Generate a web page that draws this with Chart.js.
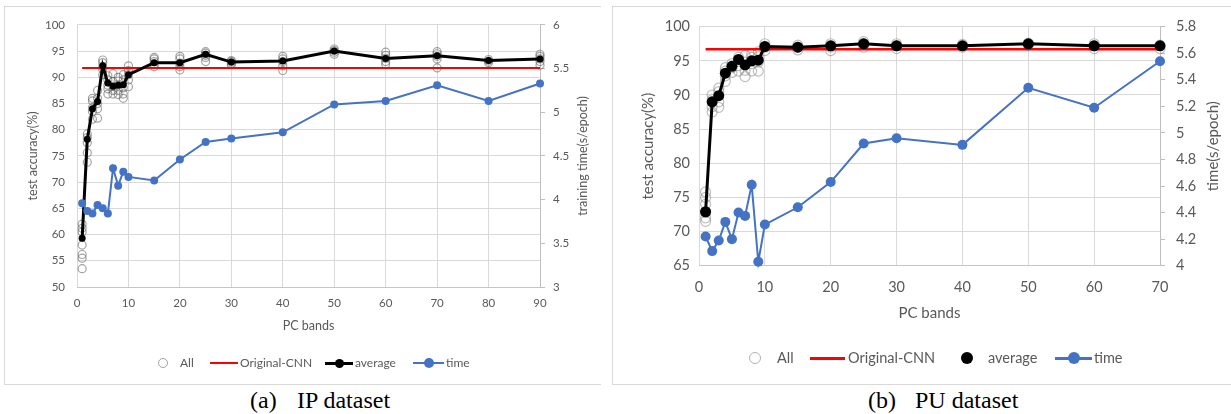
<!DOCTYPE html>
<html>
<head>
<meta charset="utf-8">
<script src="https://cdn.jsdelivr.net/npm/chart.js@4.4.1/dist/chart.umd.min.js"></script>
<style>
  body { margin: 0; width: 1231px; height: 414px; overflow: hidden; background: #fff; position: relative; font-family: Lato, "Open Sans", sans-serif; }
  .frame { position: absolute; border: 1px solid #d9d9d9; border-right: none; box-sizing: border-box; }
  canvas { position: absolute; }
  .leg { position: absolute; color: #595959; white-space: nowrap; }
  .mk { position: absolute; box-sizing: border-box; }
  .cap { position: absolute; font-family: "Liberation Serif", "Times New Roman", serif; font-size: 24px; line-height: 24px; color: #000; white-space: nowrap; }
</style>
</head>
<body>
<div class="frame" style="left:4px;top:6px;width:597px;height:379px"></div>
<div class="frame" style="left:612px;top:6px;width:619px;height:379px"></div>
<canvas id="chartA" width="596" height="378" style="left:4px;top:6px"></canvas>
<canvas id="chartB" width="619" height="378" style="left:612px;top:6px"></canvas>

<!-- legend (a) -->
<div class="mk" style="left:158px;top:358px;width:10px;height:10px;border:1.2px solid #a0a0a0;border-radius:50%"></div>
<div class="leg" style="left:180px;top:355px;font-size:12px;line-height:16px">All</div>
<div class="mk" style="left:210px;top:362px;width:28px;height:2px;background:#ff0000"></div>
<div class="leg" style="left:240px;top:355px;font-size:12px;line-height:16px">Original-CNN</div>
<div class="mk" style="left:325px;top:362px;width:28px;height:3px;background:#000"></div>
<div class="mk" style="left:335px;top:359px;width:9px;height:9px;background:#000;border-radius:50%"></div>
<div class="leg" style="left:355px;top:355px;font-size:12px;line-height:16px">average</div>
<div class="mk" style="left:413px;top:362px;width:31px;height:2px;background:#4472c4"></div>
<div class="mk" style="left:424px;top:358px;width:10px;height:10px;background:#4472c4;border-radius:50%"></div>
<div class="leg" style="left:446px;top:355px;font-size:12px;line-height:16px">time</div>

<!-- legend (b) -->
<div class="mk" style="left:749px;top:352px;width:12px;height:12px;border:1.2px solid #b0b0b0;border-radius:50%"></div>
<div class="leg" style="left:777px;top:348px;font-size:14.5px;line-height:20px">All</div>
<div class="mk" style="left:810px;top:357px;width:35px;height:2.5px;background:#ff0000"></div>
<div class="leg" style="left:848px;top:348px;font-size:14.5px;line-height:20px">Original-CNN</div>
<div class="mk" style="left:961px;top:352px;width:12px;height:12px;background:#000;border-radius:50%"></div>
<div class="leg" style="left:988px;top:348px;font-size:14.5px;line-height:20px">average</div>
<div class="mk" style="left:1055px;top:357px;width:37px;height:2.5px;background:#4472c4"></div>
<div class="mk" style="left:1068px;top:352px;width:12px;height:12px;background:#4472c4;border-radius:50%"></div>
<div class="leg" style="left:1094px;top:348px;font-size:14.5px;line-height:20px">time</div>

<div class="cap" style="left:250px;top:388px">(a)</div>
<div class="cap" style="left:297px;top:388px">IP dataset</div>
<div class="cap" style="left:868px;top:388px">(b)</div>
<div class="cap" style="left:915px;top:388px">PU dataset</div>

<script>
// ---- (a) IP dataset ----
const pcBandsA = [1, 2, 3, 4, 5, 6, 7, 8, 9, 10, 15, 20, 25, 30, 40, 50, 60, 70, 80, 90];
const allRunsA = [
  [53.5, 55.5, 56.2, 58, 60.5, 61.2, 62],
  [73.8, 75.6, 77.5, 78.5, 79.2],
  [82, 83.5, 84.2, 85.5, 86],
  [82.2, 84, 85, 86, 87.5],
  [90.5, 91.5, 92, 92.8, 93.3],
  [86.8, 87.8, 88.5, 89.5, 90.3],
  [86.8, 87.5, 88.3, 89.2, 90.7],
  [86.7, 87.5, 88.5, 89.3, 90],
  [86, 86.8, 88, 89.5, 90.5],
  [88.2, 89.5, 90.5, 91.3, 92.2],
  [92, 92.5, 93, 93.5, 93.8],
  [91.4, 92, 92.7, 93.5, 94],
  [93, 93.8, 94.2, 94.6, 94.9],
  [92.4, 92.7, 93, 93.2],
  [91.3, 92.2, 93, 93.5, 94],
  [94.4, 94.8, 95.1, 95.4],
  [92.5, 93, 93.6, 94.2, 94.8],
  [91.8, 93.5, 94, 94.5, 94.9],
  [92.8, 93.1, 93.4],
  [92.3, 93, 93.5, 94, 94.4]
];
const averageA = [59.3, 78.2, 84, 85.4, 92.2, 88.9, 88.3, 88.5, 88.6, 90.5, 92.8, 92.8, 94.4, 92.9, 93.1, 95, 93.6, 94.1, 93.2, 93.5];
const originalCnnA = [91.8, 91.8, 91.8, 91.8, 91.8, 91.8, 91.8, 91.8, 91.8, 91.8, 91.8, 91.8, 91.8, 91.8, 91.8, 91.8, 91.8, 91.8, 91.8, 91.8];
const timeA = [3.96, 3.87, 3.84, 3.94, 3.90, 3.84, 4.36, 4.16, 4.32, 4.26, 4.22, 4.46, 4.66, 4.70, 4.77, 5.09, 5.13, 5.31, 5.13, 5.33];
const bandTicksA = [0, 10, 20, 30, 40, 50, 60, 70, 80, 90];
const accTicksA = [50, 55, 60, 65, 70, 75, 80, 85, 90, 95, 100];
const timeTicksA = [3, 3.5, 4, 4.5, 5, 5.5, 6];

// ---- (b) PU dataset ----
const pcBandsB = [1, 2, 3, 4, 5, 6, 7, 8, 9, 10, 15, 20, 25, 30, 40, 50, 60, 70];
const allRunsB = [
  [71.5, 72, 72.8, 74, 75, 75.8],
  [87.5, 88.3, 89.3, 90],
  [88.2, 89, 90.5, 91],
  [92, 92.8, 93.5, 94],
  [93.3, 94, 94.6],
  [93.5, 94.3, 95.5],
  [92.7, 93.6, 94.8, 95.8],
  [93.5, 94.6, 95.5, 96],
  [93.5, 94.8, 95.6, 96.3],
  [96.5, 97, 97.5],
  [96.6, 97, 97.3],
  [96.5, 97, 97.5],
  [97, 97.5, 97.8],
  [96.8, 97.2, 97.5],
  [97, 97.4],
  [97.3, 97.6],
  [96.8, 97.2, 97.5],
  [96.8, 97.3]
];
const averageB = [72.9, 89, 89.9, 93.2, 94.2, 95.2, 94.4, 95, 95.1, 97.1, 97, 97.2, 97.5, 97.2, 97.2, 97.5, 97.2, 97.2];
const originalCnnB = [96.7, 96.7, 96.7, 96.7, 96.7, 96.7, 96.7, 96.7, 96.7, 96.7, 96.7, 96.7, 96.7, 96.7, 96.7, 96.7, 96.7, 96.7];
const timeB = [4.22, 4.11, 4.19, 4.33, 4.20, 4.40, 4.375, 4.61, 4.03, 4.31, 4.44, 4.63, 4.92, 4.96, 4.91, 5.34, 5.19, 5.54];
const bandTicksB = [0, 10, 20, 30, 40, 50, 60, 70];
const accTicksB = [65, 70, 75, 80, 85, 90, 95, 100];
const timeTicksB = [4, 4.2, 4.4, 4.6, 4.8, 5, 5.2, 5.4, 5.6, 5.8];

const GRAY = '#595959';
const GRID = '#d9d9d9';
Chart.defaults.font.family = 'Lato, "Open Sans", sans-serif';
Chart.defaults.color = GRAY;

// Excel puts the secondary axis title bottom-to-top, Chart.js would flip it
const rightTitle = {
  id: 'rightTitle',
  afterDraw(chart, args, opts) {
    const s = chart.scales.y2, area = chart.chartArea, ctx = chart.ctx;
    ctx.save();
    ctx.translate(s.right - opts.offset, (area.top + area.bottom) / 2);
    ctx.rotate(-Math.PI / 2);
    ctx.font = opts.size + 'px ' + Chart.defaults.font.family;
    ctx.fillStyle = GRAY;
    ctx.textAlign = 'center';
    ctx.textBaseline = 'middle';
    ctx.fillText(opts.text, 0, 0);
    ctx.restore();
  }
};

const pairs = (xs, ys) => xs.map((x, i) => ({ x, y: ys[i] }));
const stepOf = t => t[1] - t[0];

function makeChart(id, d, s) {
  const allPts = d.xs.flatMap((x, i) => d.all[i].map(v => ({ x, y: v })));
  return new Chart(document.getElementById(id), {
    type: 'line',
    data: {
      datasets: [
        { type: 'scatter', label: 'All', data: allPts, yAxisID: 'y', order: 4,
          pointRadius: s.allR, pointBorderWidth: 1.2, borderColor: s.allColor,
          backgroundColor: 'rgba(0,0,0,0)', clip: false },
        { label: 'Original-CNN', data: pairs(d.xs, d.orig), yAxisID: 'y', order: 3,
          borderColor: '#ff0000', borderWidth: s.redW, pointRadius: 0, clip: false },
        { label: 'average', data: pairs(d.xs, d.avg), yAxisID: 'y', order: 2,
          borderColor: '#000', backgroundColor: '#000', borderWidth: 3,
          pointRadius: s.avgR, pointBorderWidth: 0, clip: false },
        { label: 'time', data: pairs(d.xs, d.time), yAxisID: 'y2', order: 1,
          borderColor: '#4472c4', backgroundColor: '#4472c4', borderWidth: 2,
          pointRadius: s.timeR, pointBorderWidth: 0, clip: false }
      ]
    },
    options: {
      responsive: false,
      animation: false,
      layout: { padding: { top: s.padTop, left: 0, right: 0, bottom: s.padBottom } },
      plugins: {
        legend: { display: false },
        tooltip: { enabled: false },
        rightTitle: { text: d.timeTitle, offset: s.rtOffset, size: s.titleSize }
      },
      scales: {
        x: {
          type: 'linear', min: d.bandTicks[0], max: d.bandTicks[d.bandTicks.length - 1],
          afterFit: sc => { sc.height = s.xH; },
          ticks: { stepSize: stepOf(d.bandTicks), padding: s.xPad, font: { size: s.tickSize } },
          grid: { color: GRID, drawTicks: false },
          border: { color: '#c6c6c6' },
          title: { display: true, text: 'PC bands', font: { size: s.titleSize }, padding: { top: 0, bottom: s.xTitlePad } }
        },
        y: {
          position: 'left', min: d.accTicks[0], max: d.accTicks[d.accTicks.length - 1],
          afterFit: sc => { sc.width = s.yW; },
          ticks: { stepSize: stepOf(d.accTicks), padding: s.yPad, font: { size: s.tickSize } },
          grid: { color: GRID, drawTicks: false },
          border: { display: false },
          title: { display: true, text: 'test accuracy(%)', font: { size: s.titleSize }, padding: { top: s.yTitlePad, bottom: 0 } }
        },
        y2: {
          position: 'right', min: d.timeTicks[0], max: d.timeTicks[d.timeTicks.length - 1],
          afterFit: sc => { sc.width = s.y2W; },
          ticks: { stepSize: stepOf(d.timeTicks), padding: s.y2Pad, font: { size: s.tickSize },
                   callback: v => String(+v.toFixed(1)) },
          grid: { drawOnChartArea: false, drawTicks: true, tickLength: 5, color: '#bfbfbf' },
          border: { color: '#bfbfbf' }
        }
      }
    },
    plugins: [rightTitle]
  });
}

makeChart('chartA',
  { xs: pcBandsA, all: allRunsA, avg: averageA, orig: originalCnnA, time: timeA,
    bandTicks: bandTicksA, accTicks: accTicksA, timeTicks: timeTicksA, timeTitle: 'training time(s/epoch)' },
  { padTop: 17, padBottom: 45, xH: 52, yW: 73, y2W: 60, xPad: 9, yPad: 12, y2Pad: 8,
    tickSize: 11.5, titleSize: 12.5, xTitlePad: 5.5, yTitlePad: 21.5, rtOffset: 17,
    allR: 4, allColor: 'rgba(90,90,90,0.55)', avgR: 3.5, timeR: 4, redW: 2 });

makeChart('chartB',
  { xs: pcBandsB, all: allRunsB, avg: averageB, orig: originalCnnB, time: timeB,
    bandTicks: bandTicksB, accTicks: accTicksB, timeTicks: timeTicksB, timeTitle: 'time(s/epoch)' },
  { padTop: 20.7, padBottom: 50, xH: 68.3, yW: 87, y2W: 71, xPad: 12.6, yPad: 9, y2Pad: 11,
    tickSize: 14.5, titleSize: 15, xTitlePad: 12, yTitlePad: 27, rtOffset: 18,
    allR: 5, allColor: 'rgba(128,128,128,0.5)', avgR: 5.5, timeR: 5, redW: 2.5 });
</script>
</body>
</html>
